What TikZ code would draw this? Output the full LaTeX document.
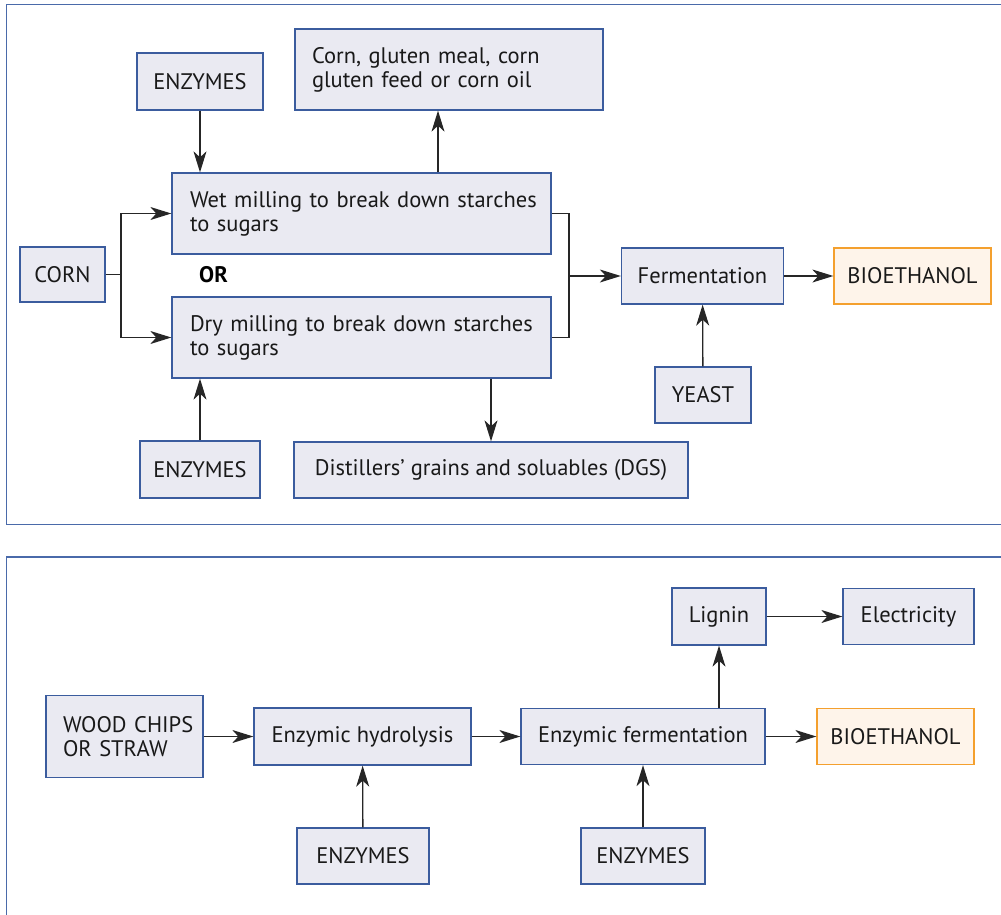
\documentclass[tikz,border=0pt]{standalone}
\usepackage{fontspec}
\setmainfont{PT Sans}
\usetikzlibrary{arrows.meta}
\definecolor{boxblue}{HTML}{3B5C9E}
\definecolor{boxfill}{HTML}{EAEAF2}
\definecolor{ethline}{HTML}{F4A02E}
\definecolor{ethfill}{HTML}{FEF4EA}
\definecolor{framecol}{HTML}{4A6AAA}
\begin{document}
\begin{tikzpicture}[x=1pt,y=-1pt,
  box/.style={draw=boxblue,fill=boxfill,line width=1.3pt,inner sep=0pt,
    font=\fontsize{22.5}{24}\selectfont,text=black!90},
  wbox/.style 2 args={box,minimum width=#1,minimum height=#2},
  lbox/.style 2 args={box,align=left,inner xsep=17pt,text width=#1-34pt,minimum height=#2},
  ethbox/.style={box,draw=ethline,fill=ethfill},
  arr/.style={-{Stealth[length=21pt,width=13pt,inset=6pt]},line width=1.3pt,black!85},
  frame/.style={draw=framecol,line width=1.6pt}]
  \useasboundingbox (0,0) rectangle (1001,915);
  \clip (0,0) rectangle (1001,915);
  \draw[frame] (1010,4.5) -- (6.5,4.5) -- (6.5,524.5) -- (1010,524.5);
  \draw[frame] (1010,557) -- (6.5,557) -- (6.5,930);
  % corn route
  \node[wbox={126pt}{57pt}] (enzA) at (200,81.5) {ENZYMES};
  \node[lbox={308pt}{81pt}] (gluten) at (449,69.5) {\mbox{Corn, gluten meal, corn}\\\mbox{gluten feed or corn oil}};
  \node[lbox={379pt}{81pt},inner xsep=18pt,text width=343pt] (wet) at (361.5,213.5) {\mbox{Wet milling to break down starches}\\to sugars};
  \node[wbox={85pt}{55pt}] (corn) at (62.5,274.5) {CORN};
  \node[font=\fontsize{22.5}{24}\selectfont\bfseries] (or) at (213.5,274.5) {OR};
  \node[lbox={379pt}{81pt},inner xsep=18pt,text width=343pt] (dry) at (361.5,337.5) {\mbox{Dry milling to break down starches}\\to sugars};
  \node[wbox={120pt}{57pt}] (enzB) at (200,469.5) {ENZYMES};
  \node[wbox={394pt}{56pt}] (dgs) at (491,470) {Distillers’ grains and soluables (DGS)};
  \node[wbox={162pt}{56pt}] (ferm) at (702.5,276) {Fermentation};
  \node[wbox={157pt}{56pt},ethbox] (bioA) at (912.5,276) {BIOETHANOL};
  \node[wbox={96pt}{56pt}] (yeast) at (703,395) {YEAST};
  \coordinate (split) at (121,274.5);
  \coordinate (merge) at (569,276);
  \draw[arr] (enzA) -- (enzA |- wet.north);
  \draw[arr] ([xshift=-11pt]gluten.south |- wet.north) -- ([xshift=-11pt]gluten.south);
  \draw[line width=1.3pt,black!85] (corn.east) -- (split);
  \draw[arr] (split) |- (wet.west);
  \draw[arr] (split) |- (dry.west);
  \draw[line width=1.3pt,black!85] (wet.east) -| (merge |- dry.east) -- (dry.east);
  \draw[arr] (merge) -- (ferm.west);
  \draw[arr] (ferm) -- (bioA);
  \draw[arr] (yeast) -- (ferm);
  \draw[arr] (enzB) -- (enzB |- dry.south);
  \draw[arr] (dgs.north |- dry.south) -- (dgs.north);
  % wood route
  \node[lbox={157pt}{82pt}] (wood) at (124.5,736.5) {\mbox{WOOD CHIPS}\\\mbox{OR STRAW}};
  \node[wbox={217pt}{57pt}] (hydro) at (362.5,736.5) {Enzymic hydrolysis};
  \node[wbox={132pt}{56pt}] (enzC) at (363,856) {ENZYMES};
  \node[wbox={244pt}{56pt}] (fermB) at (643,736.5) {Enzymic fermentation};
  \node[wbox={94pt}{57pt}] (lignin) at (719,616.5) {Lignin};
  \node[wbox={124pt}{56pt}] (enzD) at (643,856) {ENZYMES};
  \node[wbox={131pt}{56pt}] (elec) at (908.5,616.5) {Electricity};
  \node[wbox={157pt}{56pt},ethbox] (bioB) at (895.5,736.5) {BIOETHANOL};
  \draw[arr] (wood) -- (hydro);
  \draw[arr] (hydro) -- (fermB);
  \draw[arr] (fermB) -- (bioB);
  \draw[arr] (enzC) -- (hydro);
  \draw[arr] (enzD) -- (fermB);
  \draw[arr] (lignin |- fermB.north) -- (lignin);
  \draw[arr] (lignin) -- (elec);
\end{tikzpicture}
\end{document}
